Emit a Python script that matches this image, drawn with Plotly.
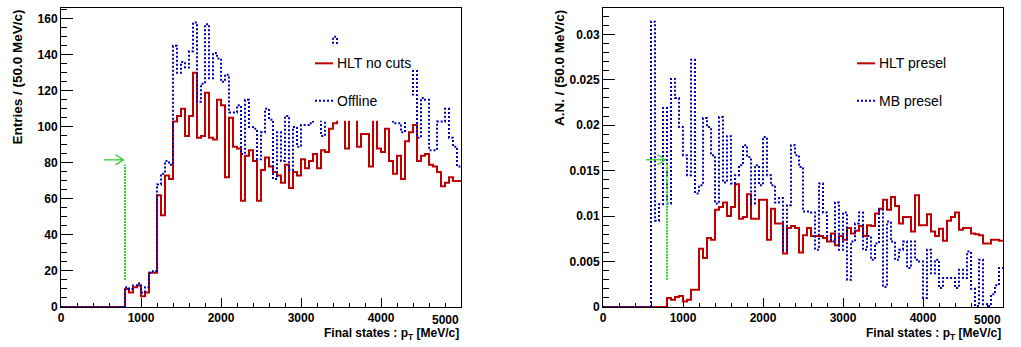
import numpy as np
import plotly.graph_objects as go

# Binning: 100 bins of 50 MeV/c between 0 and 5000 MeV/c
PT_MIN, PT_MAX, N_BINS = 0.0, 5000.0, 100
CUT_PT = 800.0

# Left pad: raw entries per bin
hlt_no_cuts = [0] * 16 + [
    10, 8, 11, 12, 6, 8, 19, 19, 62, 51, 73, 71, 103, 106, 110, 95, 106, 130, 94, 95,
    119, 94, 93, 115, 112, 72, 105, 89, 88, 59, 84, 87, 81, 59, 76, 83, 78, 75, 73, 69,
    79, 66, 75, 73, 82, 77, 81, 85, 77, 87, 86, 99, 102, 106, 114, 88, 117, 108, 89, 96,
    96, 78, 119, 88, 86, 99, 81, 74, 84, 71, 92, 97, 101, 81, 84, 85, 79, 78, 75, 67,
    69, 72, 70, 70,
]
offline = [0] * 16 + [
    11, 10, 12, 13, 8, 11, 19, 20, 68, 74, 81, 79, 145, 130, 136, 133, 142, 158, 114, 124,
    157, 127, 141, 138, 125, 129, 108, 108, 112, 85, 115, 100, 99, 82, 97, 110, 104, 71, 97, 81,
    106, 76, 100, 89, 101, 101, 102, 112, 108, 95, 118, 125, 150, 138, 120, 128, 115, 122, 110, 130,
    118, 112, 125, 120, 116, 125, 114, 102, 102, 97, 112, 118, 131, 94, 116, 115, 87, 87, 103, 103,
    110, 94, 89, 78,
]

# Right pad: normalised distributions
hlt_presel = [0] * 16 + [
    0.0010, 0.0008, 0.0011, 0.0012, 0.0006, 0.0008, 0.0019, 0.0019, 0.0064, 0.0054,
    0.0076, 0.0074, 0.0107, 0.0110, 0.0115, 0.0100, 0.0110, 0.0135, 0.0097, 0.0099,
    0.0124, 0.0097, 0.0097, 0.0118, 0.0118, 0.0074, 0.0108, 0.0092, 0.0092, 0.0059,
    0.0087, 0.0089, 0.0087, 0.0060, 0.0079, 0.0087, 0.0078, 0.0078, 0.0078, 0.0076,
    0.0072, 0.0081, 0.0068, 0.0078, 0.0074, 0.0087, 0.0081, 0.0084, 0.0089, 0.0078,
    0.0090, 0.0089, 0.0103, 0.0108, 0.0118, 0.0107, 0.0121, 0.0111, 0.0092, 0.0099,
    0.0099, 0.0083, 0.0123, 0.0090, 0.0090, 0.0102, 0.0083, 0.0078, 0.0086, 0.0073,
    0.0095, 0.0099, 0.0104, 0.0085, 0.0087, 0.0087, 0.0081, 0.0080, 0.0079, 0.0070,
    0.0070, 0.0074, 0.0074, 0.0073,
]
mb_presel = [0] * 12 + [
    0.0314, 0.0095, 0.0113, 0.0219, 0.0114, 0.0251, 0.0230, 0.0198, 0.0167, 0.0145,
    0.0272, 0.0125, 0.0134, 0.0208, 0.0198, 0.0167, 0.0114, 0.0209, 0.0137, 0.0188,
    0.0136, 0.0145, 0.0156, 0.0178, 0.0165, 0.0114, 0.0156, 0.0134, 0.0187, 0.0145,
    0.0134, 0.0115, 0.0120, 0.0063, 0.0112, 0.0178, 0.0167, 0.0154, 0.0105, 0.0105,
    0.0104, 0.0063, 0.0136, 0.0104, 0.0078, 0.0072, 0.0115, 0.0063, 0.0104, 0.0030,
    0.0072, 0.0092, 0.0104, 0.0063, 0.0078, 0.0052, 0.0070, 0.0107, 0.0022, 0.0094,
    0.0072, 0.0052, 0.0063, 0.0072, 0.0043, 0.0072, 0.0052, 0.0050, 0.0010, 0.0063,
    0.0037, 0.0052, 0.0021, 0.0032, 0.0032, 0.0032, 0.0021, 0.0041, 0.0032, 0.0061,
    0.0020, 0.0001, 0.0052, 0.0003, 0.0001, 0.0014, 0.0024, 0.0043,
]

x_ticks = [0, 1000, 2000, 3000, 4000, 5000]
y_ticks_left = [0, 20, 40, 60, 80, 100, 120, 140, 160]
y_ticks_right = [0, 0.005, 0.01, 0.015, 0.02, 0.025, 0.03]

edges = np.linspace(PT_MIN, PT_MAX, N_BINS + 1)

RED = "#c00000"
BLUE = "#0000b4"
GREEN = "#33cc33"
FONT = "Liberation Sans"


def step_xy(values):
    v = list(values)
    return edges, v + [v[-1]]


fig = go.Figure()


def add_hist(values, color, dash, xa, ya):
    x, y = step_xy(values)
    fig.add_trace(go.Scatter(
        x=x, y=y, mode="lines", line=dict(color=color, width=2, dash=dash, shape="hv"),
        xaxis=xa, yaxis=ya, showlegend=False, hoverinfo="skip",
    ))


add_hist(hlt_no_cuts, RED, "solid", "x", "y")
add_hist(offline, BLUE, "2px,2px", "x", "y")
add_hist(hlt_presel, RED, "solid", "x2", "y2")
add_hist(mb_presel, BLUE, "2px,2px", "x2", "y2")

tickfont = dict(family=FONT, size=12, color="black", weight="bold")
# the last x label is drawn separately, kept inside the frame
common_x = dict(
    range=[PT_MIN, PT_MAX], tickvals=x_ticks[:-1], ticks="inside", ticklen=9, tickwidth=1,
    tickcolor="black", minor=dict(dtick=200, ticks="inside", ticklen=4.5, tickcolor="black"),
    showline=True, mirror=True, linecolor="black", linewidth=1, showgrid=False,
    zeroline=False, tickfont=tickfont,
)
common_y = dict(
    ticks="inside", ticklen=12, tickwidth=1, tickcolor="black",
    showline=True, mirror=True, linecolor="black", linewidth=1, showgrid=False,
    zeroline=False, tickfont=tickfont,
)

W_TOTAL = 942.0
fig.update_layout(
    width=1021, height=347,
    margin=dict(l=61, r=18, t=8, b=40),
    paper_bgcolor="white", plot_bgcolor="white",
    xaxis=dict(domain=[0, 400 / W_TOTAL], anchor="y", **common_x),
    yaxis=dict(domain=[0, 1], anchor="x", range=[0, 166], tickvals=y_ticks_left,
               minor=dict(dtick=5, ticks="inside", ticklen=6, tickcolor="black"), **common_y),
    xaxis2=dict(domain=[542 / W_TOTAL, 1], anchor="y2", **common_x),
    yaxis2=dict(domain=[0, 1], anchor="x2", range=[0, 0.0329], tickvals=y_ticks_right,
                ticktext=[str(v) for v in y_ticks_right],
                minor=dict(dtick=0.001, ticks="inside", ticklen=6, tickcolor="black"), **common_y),
    showlegend=False,
)

shapes = []
annotations = []


def pad_decor(xa, ya, ytitle, entries, arrow_y, arrow_dy, vline_y0, vline_y1, legend_right):
    xd, yd = f"{xa} domain", f"{ya} domain"
    # cut marker: dotted vertical line and arrow pointing at the threshold
    shapes.append(dict(type="line", xref=xa, yref=ya, x0=CUT_PT, x1=CUT_PT, y0=vline_y0, y1=vline_y1,
                       line=dict(color=GREEN, width=2, dash="2px,1px")))
    tip = CUT_PT - 20
    shapes.append(dict(type="line", xref=xa, yref=ya, x0=537, x1=tip, y0=arrow_y, y1=arrow_y,
                       line=dict(color=GREEN, width=1.3)))
    for s in (1, -1):
        shapes.append(dict(type="line", xref=xa, yref=ya, x0=tip - 100, x1=tip,
                           y0=arrow_y + s * arrow_dy, y1=arrow_y,
                           line=dict(color=GREEN, width=1.3)))
    # legend box (opaque, drawn over the histograms)
    shapes.append(dict(type="rect", xref=xd, yref=yd, x0=0.605, x1=legend_right, y0=0.623, y1=0.874,
                       fillcolor="white", line=dict(width=0), layer="above"))
    for (label, color, dash), ypos in zip(entries, (0.815, 0.69)):
        shapes.append(dict(type="line", xref=xd, yref=yd, x0=0.635, x1=0.68, y0=ypos, y1=ypos,
                           line=dict(color=color, width=2, dash=dash), layer="above"))
        annotations.append(dict(text=label, xref=xd, yref=yd, x=0.685, y=ypos, xanchor="left",
                                yanchor="middle", showarrow=False,
                                font=dict(family=FONT, size=14, color="black")))
    # last x tick label, right-aligned at the frame edge
    annotations.append(dict(text=str(x_ticks[-1]), xref=xa, yref=yd, x=x_ticks[-1], y=-0.012,
                            xanchor="right", yanchor="top", showarrow=False,
                            font=tickfont))
    # axis titles
    annotations.append(dict(text="Final states : p<sub>T</sub> [MeV/c]", xref=xd, yref=yd, x=1.0, y=-0.057,
                            xanchor="right", yanchor="top", showarrow=False,
                            font=dict(family=FONT, size=12, color="black", weight="bold")))
    annotations.append(dict(text=ytitle, xref=xd, yref=yd, x=-0.11, y=1.0, xanchor="center",
                            yanchor="top", textangle=-90, showarrow=False,
                            font=dict(family=FONT, size=13.5, color="black", weight="bold")))


pad_decor("x", "y", "Entries / (50.0 MeV/c)",
          [("HLT no cuts", RED, "solid"), ("Offline", BLUE, "2px,2px")],
          81.7, 2.8, 15, 79, 0.8775)
pad_decor("x2", "y2", "A.N. / (50.0 MeV/c)",
          [("HLT presel", RED, "solid"), ("MB presel", BLUE, "2px,2px")],
          0.0162, 0.00055, 0.0030, 0.0159, 0.86)

fig.update_layout(shapes=shapes, annotations=annotations)
fig.write_html("out.html")
